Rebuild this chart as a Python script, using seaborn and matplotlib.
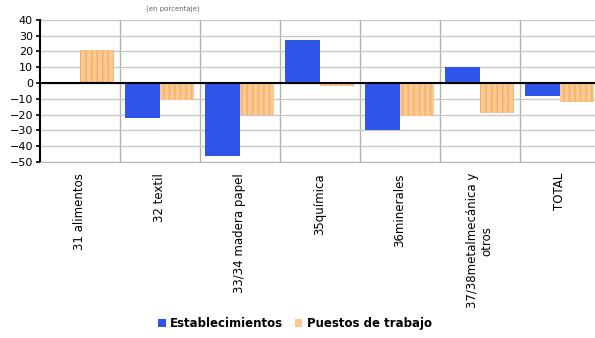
import pandas as pd
import matplotlib.pyplot as plt
import seaborn as sns

sectores = ['31 alimentos', '32 textil', '33/34 madera papel', '35química',
            '36minerales', '37/38metalmecánica y\notros', 'TOTAL']
establecimientos = [0, -22, -46, 27, -30, 10, -8]
puestos = [21, -11, -20, -2, -21, -19, -12]
series = ['Establecimientos', 'Puestos de trabajo']
colores = ['#2f55e8', '#fcc88e']

df = pd.DataFrame({
    'sector': sectores * 2,
    'valor': establecimientos + puestos,
    'serie': [series[0]] * len(sectores) + [series[1]] * len(sectores),
})

plt.rcParams['font.family'] = ['DejaVu Sans']
fig = plt.figure(figsize=(5.95, 3.38), dpi=100)
ax = fig.add_axes([0.067, 0.521, 0.933, 0.42])

sns.barplot(data=df, x='sector', y='valor', hue='serie', palette=colores,
            width=0.86, ax=ax, legend=True, saturation=1)

# patrón de rayas en la serie naranja
for bar in ax.containers[1]:
    bar.set_hatch('|||')
    bar.set_edgecolor('#f0b070')
    bar.set_linewidth(0)

ax.set_ylim(-50, 40)
ax.set_xlim(-0.5, 6.44)
ax.set_yticks(range(-50, 41, 10))
ax.yaxis.grid(True, color='#c8c8c8', linewidth=1)
for x in range(1, 7):
    ax.axvline(x - 0.5, color='#b0b0b0', linewidth=1, zorder=0)
ax.axhline(0, color='black', linewidth=1.5, zorder=3)
ax.set_axisbelow(True)

for s in ['top', 'right']:
    ax.spines[s].set_visible(False)
ax.spines['bottom'].set_color('#b0b0b0')
ax.spines['left'].set_color('black')
ax.spines['left'].set_linewidth(1.5)

ax.tick_params(axis='y', labelsize=8, length=3, width=1.2, pad=2)
ax.tick_params(axis='x', labelsize=8.5, length=0, rotation=90, pad=8)
for lbl in ax.get_xticklabels():
    lbl.set_va('top')
ax.set_xlabel('')
ax.set_ylabel('')

fig.text(0.29, 0.985, '(en porcentaje)', fontsize=5, color='#666666', ha='center', va='top')

leg = ax.legend(loc='upper center', bbox_to_anchor=(0.46, -1.02), ncol=2, frameon=False,
                prop={'size': 8.5, 'weight': 'bold'}, handlelength=0.6, handleheight=0.6,
                handletextpad=0.4, columnspacing=1.0)

fig.savefig('out.png', dpi=100)
